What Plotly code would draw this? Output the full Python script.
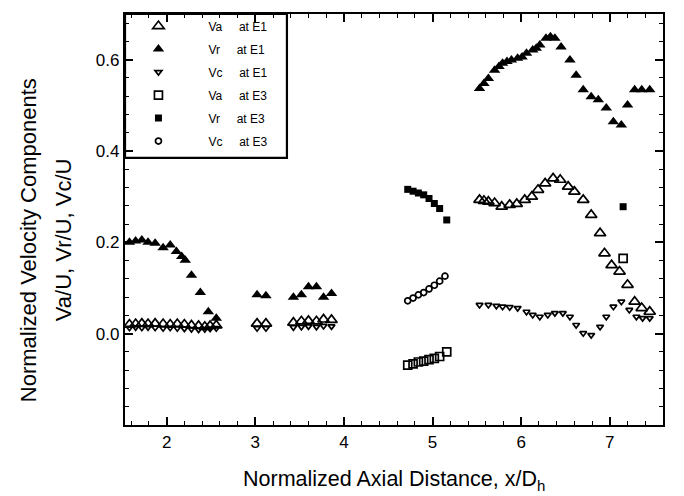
import plotly.graph_objects as go

# ---- data ----
# E1 data, left groups (Va and Vc share x positions)
x_e1_left = [1.58, 1.65, 1.72, 1.79, 1.87, 1.96, 2.04, 2.12, 2.20, 2.28, 2.36, 2.43, 2.49, 2.56,
             3.02, 3.12,
             3.43, 3.52, 3.60, 3.69, 3.77, 3.86]
va_e1_left = [0.020, 0.021, 0.022, 0.021, 0.022, 0.021, 0.020, 0.021, 0.020, 0.018, 0.017, 0.015, 0.017, 0.018,
              0.022, 0.022,
              0.024, 0.027, 0.028, 0.027, 0.031, 0.030]
vc_e1_left = [0.013, 0.014, 0.013, 0.014, 0.013, 0.012, 0.013, 0.012, 0.011, 0.010, 0.009, 0.010, 0.011, 0.012,
              0.012, 0.012,
              0.014, 0.015, 0.016, 0.015, 0.017, 0.016]

x_vr_e1_left = [1.58, 1.65, 1.72, 1.79, 1.87, 1.96, 2.04, 2.11, 2.17, 2.21, 2.28, 2.38, 2.47, 2.56,
                3.02, 3.12,
                3.43, 3.52, 3.60, 3.69, 3.77, 3.86]
vr_e1_left = [0.200, 0.203, 0.205, 0.200, 0.198, 0.188, 0.194, 0.180, 0.169, 0.161, 0.128, 0.090, 0.048, 0.034,
              0.085, 0.083,
              0.080, 0.085, 0.103, 0.103, 0.080, 0.088]

# E1 data, right group
x_vr_e1_right = [5.53, 5.58, 5.63, 5.70, 5.75, 5.79, 5.84, 5.89, 5.96, 6.01, 6.06, 6.13, 6.17, 6.21, 6.28,
                 6.33, 6.38, 6.45, 6.55, 6.62, 6.70, 6.79, 6.87, 6.96, 7.04, 7.13, 7.20, 7.28, 7.36, 7.45]
vr_e1_right = [0.537, 0.548, 0.559, 0.577, 0.585, 0.592, 0.596, 0.599, 0.603, 0.606, 0.614, 0.621, 0.625, 0.632, 0.647,
               0.650, 0.647, 0.628, 0.599, 0.566, 0.534, 0.519, 0.512, 0.494, 0.464, 0.457, 0.501, 0.534, 0.534, 0.534]

x_va_e1_right = [5.53, 5.58, 5.63, 5.70, 5.78, 5.87, 5.95, 6.04, 6.12, 6.19, 6.27, 6.36, 6.44, 6.53, 6.60,
                 6.70, 6.79, 6.89, 6.94, 7.02, 7.11, 7.20, 7.28, 7.36, 7.45]
va_e1_right = [0.293, 0.291, 0.289, 0.286, 0.278, 0.282, 0.284, 0.293, 0.300, 0.315, 0.329, 0.340, 0.337, 0.322, 0.311,
               0.293, 0.260, 0.220, 0.176, 0.150, 0.136, 0.107, 0.070, 0.056, 0.048]

x_vc_e1_right = [5.53, 5.63, 5.72, 5.79, 5.87, 5.96, 6.06, 6.13, 6.21, 6.30, 6.38, 6.47, 6.55, 6.62,
                 6.70, 6.79, 6.89, 6.96, 7.04, 7.13, 7.22, 7.30, 7.37, 7.45]
vc_e1_right = [0.063, 0.063, 0.061, 0.059, 0.058, 0.056, 0.048, 0.041, 0.037, 0.041, 0.045, 0.045, 0.037, 0.019,
               0.001, -0.003, 0.015, 0.037, 0.059, 0.070, 0.052, 0.037, 0.034, 0.034]

# E3 data
x_e3 = [4.72, 4.78, 4.84, 4.90, 4.96, 5.02, 5.08, 5.16, 7.15]
va_e3 = [-0.069, -0.066, -0.062, -0.060, -0.057, -0.054, -0.050, -0.040, 0.165]
vr_e3 = [0.316, 0.312, 0.308, 0.304, 0.296, 0.285, 0.274, 0.249, 0.278]
x_vc_e3 = [4.72, 4.78, 4.84, 4.90, 4.96, 5.02, 5.08, 5.14]
vc_e3 = [0.072, 0.078, 0.085, 0.090, 0.098, 0.106, 0.115, 0.126]

x_ticks = [2, 3, 4, 5, 6, 7]
y_ticks = [0.0, 0.2, 0.4, 0.6]
y_tick_labels = ["0.0", "0.2", "0.4", "0.6"]

legend_names = ["Va", "Vr", "Vc", "Va", "Vr", "Vc"]
legend_locs = ["E1", "E1", "E1", "E3", "E3", "E3"]

NB = "\u00a0"

def lname(i):
    return NB * 9 + legend_names[i] + NB * 5 + "at " + legend_locs[i]

FONT = "Liberation Sans, Arial, Helvetica, sans-serif"
K = "black"

fig = go.Figure()
fig.add_trace(go.Scatter(x=x_e1_left + x_va_e1_right, y=va_e1_left + va_e1_right, mode="markers",
                         name=lname(0), legendgroup="a",
                         marker=dict(symbol="triangle-up-open", size=10, color=K, line=dict(width=1.7, color=K))))
fig.add_trace(go.Scatter(x=x_vr_e1_left + x_vr_e1_right, y=vr_e1_left + vr_e1_right, mode="markers",
                         name=lname(1), legendgroup="b",
                         marker=dict(symbol="triangle-up", size=10, color=K, line=dict(width=0))))
fig.add_trace(go.Scatter(x=x_e1_left + x_vc_e1_right, y=vc_e1_left + vc_e1_right, mode="markers",
                         name=lname(2), legendgroup="c",
                         marker=dict(symbol="triangle-down-open", size=6, color=K, line=dict(width=1.7, color=K))))
fig.add_trace(go.Scatter(x=x_e3, y=va_e3, mode="markers", name=lname(3), legendgroup="d",
                         marker=dict(symbol="square-open", size=8, color=K, line=dict(width=1.7, color=K))))
fig.add_trace(go.Scatter(x=x_e3, y=vr_e3, mode="markers", name=lname(4), legendgroup="e",
                         marker=dict(symbol="square", size=7, color=K, line=dict(width=0))))
fig.add_trace(go.Scatter(x=x_vc_e3, y=vc_e3, mode="markers", name=lname(5), legendgroup="f",
                         marker=dict(symbol="circle-open", size=6, color=K, line=dict(width=1.7, color=K))))

axis_common = dict(showline=True, linecolor=K, linewidth=2.2, mirror="allticks", ticks="inside",
                   ticklen=8, tickwidth=1.5, tickcolor=K, showgrid=False, zeroline=False,
                   tickfont=dict(family=FONT, size=17, color=K))

fig.update_xaxes(range=[1.53, 7.6], tickvals=x_ticks, ticktext=[str(t) for t in x_ticks],
                 minor=dict(dtick=0.2, tick0=0, ticks="inside", ticklen=4, tickwidth=1.2, tickcolor=K),
                 **axis_common)
fig.update_yaxes(range=[-0.2, 0.7], tickvals=y_ticks, ticktext=y_tick_labels,
                 minor=dict(dtick=0.04, tick0=0, ticks="inside", ticklen=4, tickwidth=1.2, tickcolor=K),
                 **axis_common)

fig.add_annotation(text="Normalized Axial Distance, x/D<sub>h</sub>", xref="paper", yref="paper",
                   x=0.5, y=-0.135, showarrow=False, xanchor="center", yanchor="middle",
                   font=dict(family=FONT, size=21.5, color=K))
fig.add_annotation(text="Normalized Velocity Components", xref="paper", yref="paper",
                   x=-0.18, y=0.45, textangle=-90, showarrow=False, xanchor="center", yanchor="middle",
                   font=dict(family=FONT, size=22, color=K))
fig.add_annotation(text="Va/U, Vr/U, Vc/U", xref="paper", yref="paper",
                   x=-0.115, y=0.45, textangle=-90, showarrow=False, xanchor="center", yanchor="middle",
                   font=dict(family=FONT, size=22, color=K))

# legend box
fig.add_shape(type="rect", xref="paper", yref="paper", x0=0, x1=0.301, y0=0.650, y1=1,
              line=dict(color=K, width=2.2), fillcolor="rgba(0,0,0,0)")

fig.update_layout(
    width=684, height=496,
    margin=dict(l=125, r=21, t=14, b=71),
    paper_bgcolor="white", plot_bgcolor="white",
    font=dict(family=FONT, color=K),
    showlegend=True,
    legend=dict(x=0.025, y=1.006, xanchor="left", yanchor="top", bgcolor="rgba(0,0,0,0)",
                borderwidth=0, traceorder="grouped", tracegroupgap=4,
                font=dict(family=FONT, size=12, color=K)),
)

fig.write_html("out.html")
